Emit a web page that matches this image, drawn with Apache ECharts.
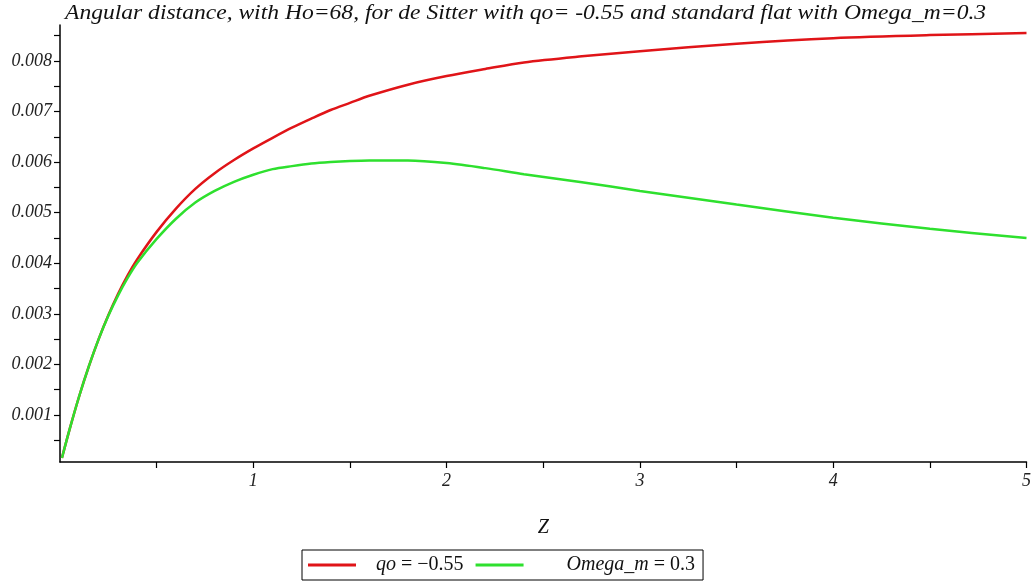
<!DOCTYPE html>
<html>
<head>
<meta charset="utf-8">
<script src="https://cdn.jsdelivr.net/npm/echarts@6/dist/echarts.min.js"></script>
<style>html,body{margin:0;padding:0;background:#fff}#c{width:1034px;height:583px}</style>
</head>
<body>
<div id="c"></div>
<script>
const z = [0.01,0.05,0.1,0.15,0.2,0.25,0.3,0.35,0.4,0.5,0.6,0.7,0.8,0.9,1.0,1.1,1.2,1.3,1.4,1.5,1.6,1.8,2.0,2.2,2.4,2.7,3.0,3.5,4.0,4.5,5.0];
const deSitter = [0.00015,0.00072,0.00138,0.00197,0.00250,0.00297,0.00339,0.00376,0.00408,0.00462,0.00508,0.00547,0.00578,0.00604,0.00627,0.00648,0.00668,0.00686,0.00703,0.00717,0.00731,0.00753,0.00770,0.00784,0.00797,0.00809,0.00819,0.00834,0.00845,0.00851,0.00855];
const flat = [0.00015,0.00072,0.00138,0.00197,0.00250,0.00296,0.00336,0.00371,0.00401,0.00448,0.00488,0.00520,0.00543,0.00561,0.00575,0.00586,0.00592,0.00597,0.00600,0.00602,0.00603,0.00603,0.00598,0.00588,0.00576,0.00560,0.00543,0.00516,0.00490,0.00468,0.00450];
const xLabels = [1,2,3,4,5];
const xTicks = [0.5,1,1.5,2,2.5,3,3.5,4,4.5,5];
const yLabels = [0.001,0.002,0.003,0.004,0.005,0.006,0.007,0.008];
const yTicks = [0.0005,0.001,0.0015,0.002,0.0025,0.003,0.0035,0.004,0.0045,0.005,0.0055,0.006,0.0065,0.007,0.0075,0.008,0.0085];
const seriesNames = ['qo = \u22120.55', 'Omega_m = 0.3'];
const titleText = 'Angular distance, with Ho=68, for de Sitter with qo= -0.55 and standard flat with Omega_m=0.3';

const serif = '"Liberation Serif", "DejaVu Serif", serif';
const chart = echarts.init(document.getElementById('c'), null, {renderer: 'canvas'});
const pairs = arr => z.map((v, i) => [v, arr[i]]);
chart.setOption({
  animation: false,
  backgroundColor: '#fff',
  graphic: [{
    type: 'text', x: 65, y: 4, scaleX: 1.178, originX: 0, originY: 0,
    style: {text: titleText, font: 'italic 20px ' + serif, fill: '#111'}
  }],
  grid: {left: 60, right: 3, top: 25, bottom: 121},
  legend: {
    left: 302, top: 550, orient: 'horizontal',
    borderColor: '#000', borderWidth: 1, padding: [5, 8, 5, 6],
    itemWidth: 48, itemHeight: 3, itemGap: 12, icon: 'rect',
    data: seriesNames,
    formatter: n => n === seriesNames[0] ? '{p1|}{i|qo}{n| = \u22120.55}' : '{p2|}{i|Omega_m}{n| = 0.3}',
    textStyle: {
      fontFamily: serif, fontSize: 20, color: '#111',
      rich: {
        p1: {width: 15}, p2: {width: 38},
        i: {fontStyle: 'italic', fontFamily: serif, fontSize: 20, color: '#111'},
        n: {fontFamily: serif, fontSize: 20, color: '#111'}
      }
    }
  },
  xAxis: {
    type: 'value', min: 0, max: 5, interval: 0.5,
    name: 'Z', nameLocation: 'middle', nameGap: 56,
    nameTextStyle: {fontFamily: serif, fontStyle: 'italic', fontSize: 20, color: '#111'},
    axisLine: {onZero: false, lineStyle: {color: '#000', width: 1.5}},
    axisTick: {show: true, inside: false, length: 6, customValues: xTicks, lineStyle: {color: '#000', width: 1.2}},
    axisLabel: {customValues: xLabels, margin: 10, fontFamily: serif, fontStyle: 'italic', fontSize: 18, color: '#222'},
    splitLine: {show: false}
  },
  yAxis: {
    type: 'value', min: 0.00007, max: 0.00871,
    axisLine: {show: true, lineStyle: {color: '#000', width: 1.5}},
    axisTick: {show: true, inside: false, length: 6, customValues: yTicks, lineStyle: {color: '#000', width: 1.2}},
    axisLabel: {customValues: yLabels, margin: 8, formatter: v => Number(v).toFixed(3),
      fontFamily: serif, fontStyle: 'italic', fontSize: 18, color: '#222'},
    splitLine: {show: false}
  },
  series: [
    {name: seriesNames[0], type: 'line', data: pairs(deSitter), smooth: 0.3, showSymbol: false,
     lineStyle: {color: '#e01418', width: 2.5}, itemStyle: {color: '#e01418'}},
    {name: seriesNames[1], type: 'line', data: pairs(flat), smooth: 0.3, showSymbol: false,
     lineStyle: {color: '#2ee02e', width: 2.5}, itemStyle: {color: '#2ee02e'}}
  ]
});
</script>
</body>
</html>
